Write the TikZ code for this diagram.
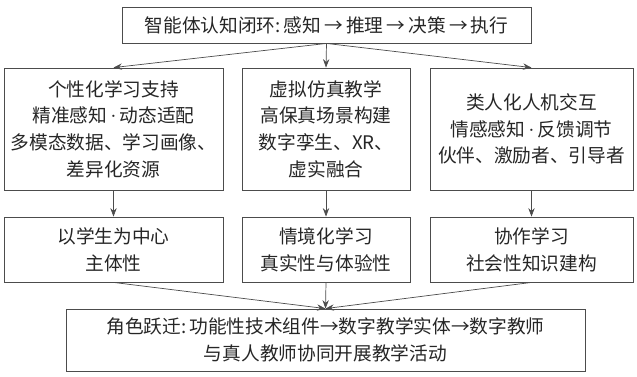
\documentclass[tikz,border=0pt]{standalone}
\usepackage{fontspec}
\newfontfamily\cjk{Noto Sans CJK SC}
\newfontfamily\latin{Liberation Serif}
\newcommand{\middot}{{\latin\,·\,}}
\usetikzlibrary{arrows.meta}

\begin{document}
\begin{tikzpicture}[
    line width=0.6pt, >={Stealth[length=6pt,width=4.5pt]},
    box/.style={draw=black!70, rectangle, inner sep=0pt, align=center, text=black!85,
                font=\cjk\fontsize{13.3}{19}\selectfont},
    link/.style={->, draw=black!70, line width=0.5pt}]
        \useasboundingbox (0,0) rectangle (15.925,-9.4);

        % top: cognitive loop
        \node[box, minimum width=10.225cm, minimum height=0.9cm] (loop) at (8.1625,-0.625) {智能体认知闭环:\,感知\,→\,推理\,→\,决策\,→\,执行};

        % middle row: technical support
        \node[box, minimum width=5.475cm, minimum height=3.05cm] (personal) at (2.8375,-3.225) {个性化学习支持\\精准感知\middot 动态适配\\多模态数据、学习画像、\\差异化资源};
        \node[box, minimum width=4.2cm, minimum height=3.05cm] (virtual) at (8.15,-3.225) {虚拟仿真教学\\高保真场景构建\\数字孪生、XR、\\虚实融合};
        \node[box, minimum width=5.075cm, minimum height=3.05cm] (human) at (13.2875,-3.225) {类人化人机交互\\情感感知\middot 反馈调节\\伙伴、激励者、引导者};

        % lower row: learning modes
        \node[box, minimum width=5.475cm, minimum height=1.625cm] (student) at (2.8375,-6.2375) {以学生为中心\\主体性};
        \node[box, minimum width=4.2cm, minimum height=1.625cm] (situated) at (8.15,-6.2375) {情境化学习\\真实性与体验性};
        \node[box, minimum width=5.075cm, minimum height=1.625cm] (collab) at (13.2875,-6.2375) {协作学习\\社会性知识建构};

        % bottom: role transition
        \node[box, minimum width=12.975cm, minimum height=1.55cm] (role) at (8.1375,-8.5) {角色跃迁:\,功能性技术组件→数字教学实体→数字教师\\与真人教师协同开展教学活动};

        \draw[link] (loop.south) -- (personal.north);
        \draw[link] (loop.south) -- (virtual.north);
        \draw[link] (loop.south) -- (human.north);

        \draw[link] (personal) -- (student);
        \draw[link] (virtual) -- (situated);
        \draw[link] (human) -- (collab);

        \draw[link] (student.south) -- (role.north);
        \draw[link] (situated.south) -- (role.north);
        \draw[link] (collab.south) -- (role.north);
    \end{tikzpicture}
\end{document}
